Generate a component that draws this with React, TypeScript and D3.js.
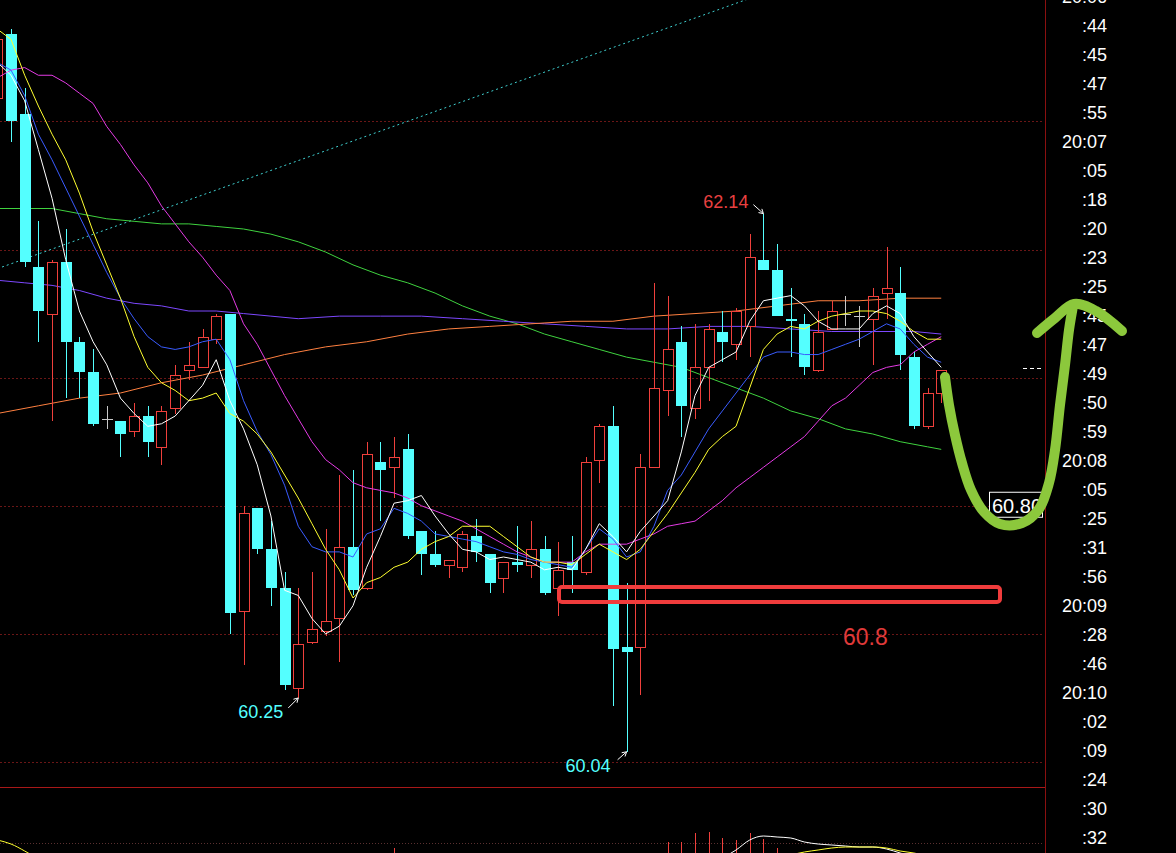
import React from "react";
import * as d3 from "d3";

// ---------- data (index -1 .. 68) ----------
const firstIndex = -1;
const opens = [62.59, 62.84, 62.53, 61.93, 61.75, 61.95, 61.64, 61.52, 61.34, 61.33, 61.29, 61.35, 61.23, 61.38, 61.53, 61.54, 61.65, 61.75, 60.59, 60.99, 60.83, 60.68, 60.29, 60.47, 60.51, 60.56, 60.84, 60.68, 61.17, 61.15, 61.22, 60.90, 60.81, 60.77, 60.76, 60.88, 60.81, 60.72, 60.78, 60.77, 60.83, 60.68, 60.78, 60.74, 61.18, 61.31, 60.45, 60.45, 61.15, 61.45, 61.64, 61.38, 61.54, 61.68, 61.63, 61.70, 61.96, 61.92, 61.73, 61.71, 61.53, 61.69, 61.75, 61.74, 61.73, 61.83, 61.83, 61.58, 61.31, 61.44];
const highs = [62.83, 62.86, 62.63, 62.11, 61.96, 62.08, 61.66, 61.61, 61.39, 61.33, 61.40, 61.39, 61.39, 61.55, 61.64, 61.69, 61.75, 61.75, 61.00, 60.99, 60.94, 60.74, 60.68, 60.74, 60.91, 61.12, 61.14, 61.25, 61.25, 61.27, 61.28, 60.90, 60.90, 60.79, 60.90, 60.95, 60.81, 60.78, 60.92, 60.94, 60.88, 60.86, 60.88, 61.19, 61.32, 61.39, 60.70, 61.20, 61.87, 61.82, 61.70, 61.71, 61.71, 61.76, 61.77, 62.06, 62.14, 62.02, 61.85, 61.75, 61.76, 61.80, 61.82, 61.78, 61.85, 62.01, 61.93, 61.60, 61.46, 61.53];
const lows = [62.57, 62.42, 61.93, 61.64, 61.33, 61.42, 61.42, 61.31, 61.30, 61.19, 61.27, 61.19, 61.16, 61.36, 61.49, 61.54, 61.63, 60.50, 60.38, 60.81, 60.61, 60.28, 60.25, 60.46, 60.49, 60.39, 60.65, 60.67, 60.94, 61.03, 60.87, 60.73, 60.76, 60.72, 60.74, 60.78, 60.66, 60.66, 60.74, 60.72, 60.65, 60.57, 60.66, 60.73, 61.09, 60.22, 60.04, 60.26, 61.15, 61.35, 61.27, 61.34, 61.41, 61.56, 61.57, 61.58, 61.92, 61.74, 61.58, 61.51, 61.52, 61.69, 61.70, 61.62, 61.55, 61.73, 61.53, 61.30, 61.30, 61.40];
const closes = [62.82, 62.50, 61.95, 61.76, 61.95, 61.64, 61.52, 61.32, 61.34, 61.28, 61.35, 61.25, 61.37, 61.51, 61.55, 61.66, 61.74, 60.58, 60.97, 60.83, 60.68, 60.30, 60.46, 60.52, 60.55, 60.84, 60.67, 61.20, 61.14, 61.19, 60.88, 60.81, 60.77, 60.79, 60.89, 60.82, 60.70, 60.78, 60.77, 60.83, 60.66, 60.75, 60.75, 61.17, 61.31, 60.44, 60.43, 61.15, 61.46, 61.61, 61.39, 61.54, 61.69, 61.64, 61.76, 61.97, 61.92, 61.74, 61.72, 61.54, 61.68, 61.76, 61.75, 61.74, 61.82, 61.85, 61.59, 61.31, 61.44, 61.53];

const maWhite = [62.73, 62.68, 62.58, 62.39, 62.20, 61.96, 61.76, 61.64, 61.55, 61.42, 61.36, 61.31, 61.32, 61.35, 61.41, 61.47, 61.57, 61.41, 61.30, 61.16, 60.96, 60.67, 60.65, 60.56, 60.50, 60.53, 60.61, 60.76, 60.88, 61.01, 61.02, 61.04, 60.96, 60.89, 60.83, 60.82, 60.79, 60.80, 60.79, 60.78, 60.75, 60.76, 60.75, 60.83, 60.93, 60.88, 60.82, 60.90, 60.96, 61.02, 61.21, 61.43, 61.54, 61.57, 61.60, 61.72, 61.80, 61.81, 61.82, 61.78, 61.72, 61.69, 61.69, 61.69, 61.75, 61.78, 61.75, 61.66, 61.60, 61.54];
const maYellow = [62.86, 62.82, 62.68, 62.56, 62.45, 62.35, 62.22, 62.07, 61.94, 61.81, 61.66, 61.54, 61.48, 61.45, 61.41, 61.42, 61.44, 61.36, 61.33, 61.28, 61.21, 61.12, 61.03, 60.93, 60.83, 60.75, 60.64, 60.70, 60.72, 60.76, 60.78, 60.83, 60.86, 60.88, 60.92, 60.92, 60.92, 60.88, 60.84, 60.80, 60.78, 60.78, 60.77, 60.81, 60.85, 60.82, 60.79, 60.83, 60.90, 60.97, 61.05, 61.13, 61.22, 61.27, 61.31, 61.46, 61.61, 61.67, 61.70, 61.69, 61.72, 61.74, 61.75, 61.76, 61.76, 61.75, 61.72, 61.68, 61.65, 61.65];
const maBlue = [62.73, 62.70, 62.60, 62.45, 62.35, 62.24, 62.13, 62.02, 61.91, 61.81, 61.73, 61.66, 61.62, 61.61, 61.62, 61.64, 61.65, 61.57, 61.41, 61.29, 61.20, 61.08, 60.92, 60.84, 60.82, 60.82, 60.80, 60.89, 60.91, 60.99, 60.97, 60.94, 60.89, 60.88, 60.87, 60.86, 60.84, 60.82, 60.81, 60.79, 60.78, 60.77, 60.76, 60.83, 60.91, 60.87, 60.80, 60.82, 60.92, 61.06, 61.12, 61.21, 61.30, 61.37, 61.44, 61.51, 61.58, 61.60, 61.60, 61.59, 61.59, 61.61, 61.63, 61.65, 61.68, 61.71, 61.69, 61.63, 61.58, 61.56];
const maMagenta = [62.67, 62.70, 62.71, 62.68, 62.68, 62.65, 62.61, 62.57, 62.48, 62.41, 62.33, 62.26, 62.17, 62.10, 62.03, 61.97, 61.90, 61.84, 61.71, 61.63, 61.53, 61.43, 61.34, 61.25, 61.18, 61.14, 61.09, 61.07, 61.06, 61.05, 61.03, 61.00, 60.98, 60.96, 60.94, 60.91, 60.88, 60.85, 60.82, 60.80, 60.78, 60.78, 60.78, 60.82, 60.85, 60.85, 60.85, 60.87, 60.89, 60.92, 60.93, 60.94, 60.98, 61.02, 61.07, 61.11, 61.15, 61.19, 61.23, 61.27, 61.33, 61.39, 61.42, 61.47, 61.52, 61.54, 61.55, 61.60, 61.63, 61.66];
const maGreen: [number, number][] = [[-1, 62.16], [1, 62.16], [3, 62.16], [5, 62.14], [7, 62.12], [9, 62.11], [11, 62.10], [13, 62.10], [15, 62.09], [17, 62.08], [19, 62.06], [21, 62.03], [23, 61.99], [25, 61.94], [27, 61.90], [29, 61.87], [31, 61.83], [33, 61.78], [35, 61.74], [37, 61.71], [39, 61.67], [41, 61.64], [43, 61.61], [45, 61.58], [47, 61.56], [49, 61.54], [51, 61.50], [53, 61.46], [55, 61.42], [57, 61.37], [59, 61.34], [61, 61.30], [63, 61.28], [65, 61.25], [67, 61.23], [68, 61.22]];
const maPurple: [number, number][] = [[-1, 61.88], [1, 61.87], [3, 61.86], [5, 61.84], [7, 61.81], [9, 61.79], [11, 61.78], [13, 61.76], [15, 61.76], [17, 61.75], [19, 61.74], [21, 61.73], [24, 61.74], [27, 61.74], [30, 61.74], [33, 61.73], [36, 61.72], [39, 61.71], [42, 61.70], [45, 61.69], [48, 61.69], [51, 61.70], [54, 61.70], [57, 61.69], [60, 61.68], [63, 61.68], [66, 61.68], [68, 61.67]];
const maOrange: [number, number][] = [[-1, 61.36], [2, 61.39], [5, 61.42], [8, 61.44], [11, 61.48], [14, 61.51], [17, 61.55], [20, 61.59], [23, 61.62], [26, 61.64], [29, 61.67], [32, 61.69], [35, 61.70], [38, 61.71], [41, 61.72], [44, 61.72], [47, 61.74], [50, 61.75], [53, 61.76], [56, 61.78], [59, 61.80], [62, 61.80], [65, 61.81], [68, 61.81]];
const trendCyan: [number, number][] = [[-1, 61.925], [60, 63.095]];

const gridPrices = [60, 60.5, 61, 61.5, 62, 62.5];
const timeLabels = ["20:06", ":44", ":45", ":47", ":55", "20:07", ":05", ":18", ":20", ":23", ":25", ":45", ":47", ":49", ":50", ":59", "20:08", ":05", ":25", ":31", ":56", "20:09", ":28", ":46", "20:10", ":02", ":09", ":24", ":30", ":32"];

const subBarIndex = [28, 48, 49, 50, 51, 52, 53, 54, 55, 56];
const subBarValue = [5, 11, 11, 20, 21, 15, 13, 20, 14, 5];
const subWhite: [number, number][] = [[52, -5], [53, 3], [54, 13], [55, 17], [56, 16], [57, 15], [58, 11], [59, 9], [60, 8], [61, 7], [62, 6], [63, 6], [64, 4], [65, 0], [66, -4]];
const subYellowLeft: [number, number][] = [[-1, 13], [0, 9], [1, 2], [2, -6]];
const subYellowRight: [number, number][] = [[57, -2], [58, 1], [59, 3], [60, 5], [61, 6], [62, 6], [63, 6], [64, 5], [65, 2], [66, 0], [67, -3]];

const markHighIndex = 55, markHighText = "62.14";
const markLow1Index = 21, markLow1Text = "60.25";
const markLow2Index = 45, markLow2Text = "60.04";
const boxPrice = 61.0, boxText = "60.80";
const noteText = "60.8";

// ---------- component ----------
const FONT = "'Liberation Sans', Arial, Helvetica, sans-serif";
const RED = "#f0403c";
const CYAN = "#54ffff";

function arrowPath(x1: number, y1: number, x2: number, y2: number, len = 5) {
  const a = Math.atan2(y2 - y1, x2 - x1);
  const h1x = x2 - len * Math.cos(a - Math.PI / 6), h1y = y2 - len * Math.sin(a - Math.PI / 6);
  const h2x = x2 - len * Math.cos(a + Math.PI / 6), h2y = y2 - len * Math.sin(a + Math.PI / 6);
  return `M${x1},${y1}L${x2},${y2}M${h1x},${h1y}L${x2},${y2}L${h2x},${h2y}`;
}

export default function App() {
  const x = d3.scaleLinear().domain([-1, 68]).range([11 - 13.68, 11 + 68 * 13.68]);
  const y = d3.scaleLinear().domain([60, 62]).range([762, 249.5]);
  const yLab = d3.scaleLinear().domain([0, 29]).range([-3, 838]);
  const ySub = d3.scaleLinear().domain([0, 60]).range([853, 793]);

  const seq = (arr: number[]) => arr.map((v, k) => [k + firstIndex, v] as [number, number]);
  const line = d3.line<[number, number]>().x(d => x(d[0])).y(d => y(d[1]));
  const subLine = d3.line<[number, number]>().x(d => x(d[0])).y(d => ySub(d[1])).curve(d3.curveMonotoneX);

  const candles = opens.map((o, k) => ({ i: k + firstIndex, o, h: highs[k], l: lows[k], c: closes[k] }));

  const greenShaft: [number, number][] = [[945, 377], [949, 405], [955, 435], [962, 463], [971, 490], [984, 512], [1000, 524], [1022, 523], [1039, 509], [1049, 483], [1055, 450], [1060, 405], [1065, 365], [1069, 330], [1073, 306]];
  const greenHead: [number, number][] = [[1037, 333], [1055, 318], [1074, 304], [1096, 311], [1122, 331]];
  const hand = d3.line<[number, number]>().curve(d3.curveCatmullRom);

  const hx = x(markHighIndex), hy = y(highs[markHighIndex - firstIndex]);
  const l1x = x(markLow1Index), l1y = y(lows[markLow1Index - firstIndex]);
  const l2x = x(markLow2Index), l2y = y(lows[markLow2Index - firstIndex]);
  const by = y(boxPrice);

  return (
    <svg width={1176} height={853} style={{ position: "fixed", left: 0, top: 0, background: "#000" }} fontFamily={FONT}>
      <defs>
        <clipPath id="main"><rect x={0} y={0} width={1045} height={786} /></clipPath>
        <clipPath id="sub"><rect x={0} y={788} width={1045} height={65} /></clipPath>
      </defs>
      <rect x={0} y={0} width={1176} height={853} fill="#000" />

      {/* grid */}
      {gridPrices.map(p => (
        <line key={p} x1={0} x2={1042} y1={Math.round(y(p)) + 0.5} y2={Math.round(y(p)) + 0.5} stroke="#6a1616" strokeDasharray="2,2" />
      ))}
      <line x1={0} x2={1045} y1={787.5} y2={787.5} stroke="#a81818" />
      <line x1={1045.5} x2={1045.5} y1={0} y2={853} stroke="#8a1010" />
      <line x1={0} x2={1042} y1={Math.round(ySub(10)) + 0.5} y2={Math.round(ySub(10)) + 0.5} stroke="#5a3030" strokeDasharray="1,2" />

      <g clipPath="url(#main)">
        <path d={line(trendCyan) || ""} stroke="#3fd0d0" strokeWidth={1} strokeDasharray="2,3" fill="none" />
        <path d={line(maGreen) || ""} stroke="#3fd23f" fill="none" />
        <path d={line(maPurple) || ""} stroke="#7d48ff" fill="none" />
        <path d={line(maOrange) || ""} stroke="#ff8040" fill="none" />

        {candles.map(d => {
          const cx = Math.round(x(d.i));
          const yo = Math.round(y(d.o)), yc = Math.round(y(d.c));
          const yh = Math.round(y(d.h)), yl = Math.round(y(d.l));
          if (d.o === d.c) {
            return (
              <g key={d.i} stroke="#c8c8c8">
                <line x1={cx + 0.5} x2={cx + 0.5} y1={yh} y2={yl} />
                <line x1={cx - 5} x2={cx + 6} y1={yo + 0.5} y2={yo + 0.5} />
              </g>
            );
          }
          if (d.c > d.o) {
            return (
              <g key={d.i} stroke={RED} fill="none">
                <line x1={cx + 0.5} x2={cx + 0.5} y1={yh} y2={yc} />
                <line x1={cx + 0.5} x2={cx + 0.5} y1={yo} y2={yl} />
                <rect x={cx - 4.5} y={yc + 0.5} width={10} height={Math.max(1, yo - yc)} />
              </g>
            );
          }
          return (
            <g key={d.i}>
              <line x1={cx + 0.5} x2={cx + 0.5} y1={yh} y2={yl} stroke={CYAN} />
              <rect x={cx - 5} y={yo} width={11} height={Math.max(2, yc - yo)} fill={CYAN} />
            </g>
          );
        })}

        <path d={line(seq(maMagenta)) || ""} stroke="#e43be4" fill="none" />
        <path d={line(seq(maBlue)) || ""} stroke="#3a5cff" fill="none" />
        <path d={line(seq(maYellow)) || ""} stroke="#ffff30" fill="none" />
        <path d={line(seq(maWhite)) || ""} stroke="#ffffff" fill="none" />
      </g>

      {/* sub panel */}
      <g clipPath="url(#sub)">
        {subBarIndex.map((ix, k) => (
          <line key={ix} x1={Math.round(x(ix)) + 0.5} x2={Math.round(x(ix)) + 0.5} y1={ySub(0) + 5} y2={ySub(subBarValue[k])} stroke={RED} />
        ))}
        <path d={subLine(subWhite) || ""} stroke="#fff" fill="none" />
        <path d={subLine(subYellowLeft) || ""} stroke="#ffff30" fill="none" />
        <path d={subLine(subYellowRight) || ""} stroke="#ffff30" fill="none" />
      </g>

      {/* high / low marks */}
      <text x={hx - 15} y={hy - 6} fill="#e84040" fontSize={18} textAnchor="end">{markHighText}</text>
      <path d={arrowPath(hx - 10, hy - 9, hx, hy)} stroke="#fff" fill="none" />
      <text x={l1x - 15} y={l1y + 20} fill={CYAN} fontSize={18} textAnchor="end">{markLow1Text}</text>
      <path d={arrowPath(l1x - 10, l1y + 10, l1x, l1y)} stroke="#fff" fill="none" />
      <text x={l2x - 16} y={l2y + 20} fill={CYAN} fontSize={18} textAnchor="end">{markLow2Text}</text>
      <path d={arrowPath(l2x - 9, l2y + 8, l2x, l2y)} stroke="#fff" fill="none" />

      {/* right axis labels */}
      {timeLabels.map((t, k) => (
        <text key={k} x={1107} y={yLab(k)} dy="0.36em" fill="#fff" fontSize={18} textAnchor="end">{t}</text>
      ))}

      {/* current price marker */}
      <line x1={1023} x2={1043} y1={368.5} y2={368.5} stroke="#fff" strokeDasharray="4,3" />

      {/* price box */}
      <rect x={989.5} y={by - 13.5} width={53} height={25} fill="#000" stroke="#fff" />
      <text x={992} y={by + 7} fill="#fff" fontSize={20}>{boxText}</text>

      {/* hand annotations */}
      <rect x={559} y={587} width={441} height={15} rx={3} fill="none" stroke="#f03c3c" strokeWidth={4} />
      <text x={843} y={645} fill="#e03a3a" fontSize={23}>{noteText}</text>
      <path d={hand(greenShaft) || ""} stroke="#8cc83c" strokeWidth={10} fill="none" strokeLinecap="round" strokeLinejoin="round" />
      <path d={hand(greenHead) || ""} stroke="#8cc83c" strokeWidth={10} fill="none" strokeLinecap="round" strokeLinejoin="round" />
    </svg>
  );
}
